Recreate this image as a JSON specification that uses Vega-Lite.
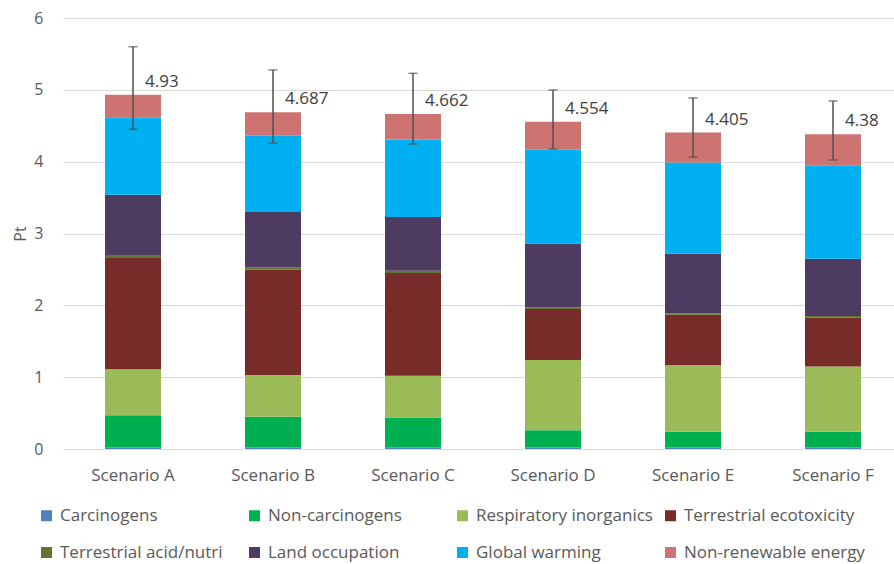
{
  "$schema": "https://vega.github.io/schema/vega-lite/v6.json",
  "autosize": {"type": "none"},
  "width": 831,
  "height": 431,
  "padding": {"left": 63, "top": 18, "right": 0, "bottom": 115},
  "background": "white",
  "config": {
    "view": {"stroke": null},
    "font": "Open Sans"
  },
  "datasets": {
    "seg": [
      {"scenario": "Scenario A", "category": "Carcinogens", "idx": 1, "value": 0.02},
      {"scenario": "Scenario A", "category": "Non-carcinogens", "idx": 2, "value": 0.45},
      {"scenario": "Scenario A", "category": "Respiratory inorganics", "idx": 3, "value": 0.64},
      {"scenario": "Scenario A", "category": "Terrestrial ecotoxicity", "idx": 4, "value": 1.55},
      {"scenario": "Scenario A", "category": "Terrestrial acid/nutri", "idx": 5, "value": 0.03},
      {"scenario": "Scenario A", "category": "Land occupation", "idx": 6, "value": 0.85},
      {"scenario": "Scenario A", "category": "Global warming", "idx": 7, "value": 1.08},
      {"scenario": "Scenario A", "category": "Non-renewable energy", "idx": 8, "value": 0.31},

      {"scenario": "Scenario B", "category": "Carcinogens", "idx": 1, "value": 0.02},
      {"scenario": "Scenario B", "category": "Non-carcinogens", "idx": 2, "value": 0.43},
      {"scenario": "Scenario B", "category": "Respiratory inorganics", "idx": 3, "value": 0.58},
      {"scenario": "Scenario B", "category": "Terrestrial ecotoxicity", "idx": 4, "value": 1.47},
      {"scenario": "Scenario B", "category": "Terrestrial acid/nutri", "idx": 5, "value": 0.03},
      {"scenario": "Scenario B", "category": "Land occupation", "idx": 6, "value": 0.77},
      {"scenario": "Scenario B", "category": "Global warming", "idx": 7, "value": 1.06},
      {"scenario": "Scenario B", "category": "Non-renewable energy", "idx": 8, "value": 0.327},

      {"scenario": "Scenario C", "category": "Carcinogens", "idx": 1, "value": 0.02},
      {"scenario": "Scenario C", "category": "Non-carcinogens", "idx": 2, "value": 0.42},
      {"scenario": "Scenario C", "category": "Respiratory inorganics", "idx": 3, "value": 0.58},
      {"scenario": "Scenario C", "category": "Terrestrial ecotoxicity", "idx": 4, "value": 1.43},
      {"scenario": "Scenario C", "category": "Terrestrial acid/nutri", "idx": 5, "value": 0.03},
      {"scenario": "Scenario C", "category": "Land occupation", "idx": 6, "value": 0.75},
      {"scenario": "Scenario C", "category": "Global warming", "idx": 7, "value": 1.08},
      {"scenario": "Scenario C", "category": "Non-renewable energy", "idx": 8, "value": 0.352},

      {"scenario": "Scenario D", "category": "Carcinogens", "idx": 1, "value": 0.02},
      {"scenario": "Scenario D", "category": "Non-carcinogens", "idx": 2, "value": 0.24},
      {"scenario": "Scenario D", "category": "Respiratory inorganics", "idx": 3, "value": 0.98},
      {"scenario": "Scenario D", "category": "Terrestrial ecotoxicity", "idx": 4, "value": 0.71},
      {"scenario": "Scenario D", "category": "Terrestrial acid/nutri", "idx": 5, "value": 0.025},
      {"scenario": "Scenario D", "category": "Land occupation", "idx": 6, "value": 0.885},
      {"scenario": "Scenario D", "category": "Global warming", "idx": 7, "value": 1.31},
      {"scenario": "Scenario D", "category": "Non-renewable energy", "idx": 8, "value": 0.384},

      {"scenario": "Scenario E", "category": "Carcinogens", "idx": 1, "value": 0.02},
      {"scenario": "Scenario E", "category": "Non-carcinogens", "idx": 2, "value": 0.22},
      {"scenario": "Scenario E", "category": "Respiratory inorganics", "idx": 3, "value": 0.93},
      {"scenario": "Scenario E", "category": "Terrestrial ecotoxicity", "idx": 4, "value": 0.70},
      {"scenario": "Scenario E", "category": "Terrestrial acid/nutri", "idx": 5, "value": 0.02},
      {"scenario": "Scenario E", "category": "Land occupation", "idx": 6, "value": 0.83},
      {"scenario": "Scenario E", "category": "Global warming", "idx": 7, "value": 1.27},
      {"scenario": "Scenario E", "category": "Non-renewable energy", "idx": 8, "value": 0.415},

      {"scenario": "Scenario F", "category": "Carcinogens", "idx": 1, "value": 0.02},
      {"scenario": "Scenario F", "category": "Non-carcinogens", "idx": 2, "value": 0.22},
      {"scenario": "Scenario F", "category": "Respiratory inorganics", "idx": 3, "value": 0.91},
      {"scenario": "Scenario F", "category": "Terrestrial ecotoxicity", "idx": 4, "value": 0.68},
      {"scenario": "Scenario F", "category": "Terrestrial acid/nutri", "idx": 5, "value": 0.02},
      {"scenario": "Scenario F", "category": "Land occupation", "idx": 6, "value": 0.80},
      {"scenario": "Scenario F", "category": "Global warming", "idx": 7, "value": 1.30},
      {"scenario": "Scenario F", "category": "Non-renewable energy", "idx": 8, "value": 0.43}
    ],
    "tot": [
      {"scenario": "Scenario A", "total": 4.93, "lo": 4.45, "hi": 5.60},
      {"scenario": "Scenario B", "total": 4.687, "lo": 4.26, "hi": 5.277},
      {"scenario": "Scenario C", "total": 4.662, "lo": 4.246, "hi": 5.23},
      {"scenario": "Scenario D", "total": 4.554, "lo": 4.177, "hi": 4.998},
      {"scenario": "Scenario E", "total": 4.405, "lo": 4.065, "hi": 4.887},
      {"scenario": "Scenario F", "total": 4.38, "lo": 4.023, "hi": 4.845}
    ]
  },
  "encoding": {
    "x": {
      "field": "scenario",
      "type": "nominal",
      "sort": null,
      "scale": {"range": [0, 840], "paddingInner": 0.6, "paddingOuter": 0.3},
      "axis": {
        "title": null,
        "domain": false,
        "ticks": false,
        "labelAngle": 0,
        "labelPadding": 18,
        "labelFontSize": 17,
        "labelColor": "#595959",
        "labelFont": "Open Sans"
      }
    }
  },
  "layer": [
    {
      "data": {"name": "seg"},
      "mark": {"type": "bar"},
      "encoding": {
        "y": {
          "field": "value",
          "type": "quantitative",
          "stack": "zero",
          "scale": {"domain": [0, 6], "nice": false},
          "axis": {
            "values": [0, 1, 2, 3, 4, 5, 6],
            "format": "d",
            "domain": false,
            "ticks": false,
            "grid": true,
            "gridColor": "#D9D9D9",
            "gridWidth": 1,
            "labelPadding": 20,
            "labelFontSize": 16,
            "labelColor": "#595959",
            "labelFont": "Open Sans",
            "title": "Pt",
            "titleFont": "Open Sans",
            "titleFontSize": 16,
            "titleFontWeight": "normal",
            "titleColor": "#595959",
            "titleX": -43,
            "titleY": 215.5,
            "titleAngle": -90,
            "titleAlign": "center",
            "titleBaseline": "middle"
          }
        },
        "color": {
          "field": "category",
          "type": "nominal",
          "sort": ["Carcinogens", "Non-carcinogens", "Respiratory inorganics", "Terrestrial ecotoxicity", "Terrestrial acid/nutri", "Land occupation", "Global warming", "Non-renewable energy"],
          "scale": {
            "domain": ["Carcinogens", "Non-carcinogens", "Respiratory inorganics", "Terrestrial ecotoxicity", "Terrestrial acid/nutri", "Land occupation", "Global warming", "Non-renewable energy"],
            "range": ["#4F81BD", "#00B050", "#9BBB59", "#772C2A", "#5F7530", "#4D3B62", "#00B0F0", "#CD7371"]
          },
          "legend": {
            "title": null,
            "orient": "none",
            "legendX": -25,
            "legendY": 489,
            "direction": "horizontal",
            "columns": 4,
            "gridAlign": "all",
            "columnPadding": 5,
            "rowPadding": 19,
            "padding": 0,
            "symbolType": "square",
            "symbolSize": 121,
            "symbolStrokeWidth": 0,
            "symbolOpacity": 1,
            "labelOffset": 5,
            "labelFontSize": 17,
            "labelFont": "Open Sans",
            "labelColor": "#595959",
            "labelLimit": 400
          }
        },
        "order": {"field": "idx", "type": "quantitative", "sort": "ascending"}
      }
    },
    {
      "data": {"name": "tot"},
      "mark": {"type": "rule", "color": "#505050", "strokeWidth": 1.5},
      "encoding": {
        "y": {"field": "lo", "type": "quantitative"},
        "y2": {"field": "hi"}
      }
    },
    {
      "data": {"name": "tot"},
      "mark": {"type": "tick", "color": "#505050", "size": 9, "thickness": 1.5},
      "encoding": {
        "y": {"field": "lo", "type": "quantitative"}
      }
    },
    {
      "data": {"name": "tot"},
      "mark": {"type": "tick", "color": "#505050", "size": 9, "thickness": 1.5},
      "encoding": {
        "y": {"field": "hi", "type": "quantitative"}
      }
    },
    {
      "data": {"name": "tot"},
      "mark": {"type": "text", "align": "left", "baseline": "middle", "dx": 12, "dy": -13, "fontSize": 17, "font": "Open Sans", "color": "#404040"},
      "encoding": {
        "y": {"field": "total", "type": "quantitative"},
        "text": {"field": "total", "type": "nominal"}
      }
    }
  ]
}
